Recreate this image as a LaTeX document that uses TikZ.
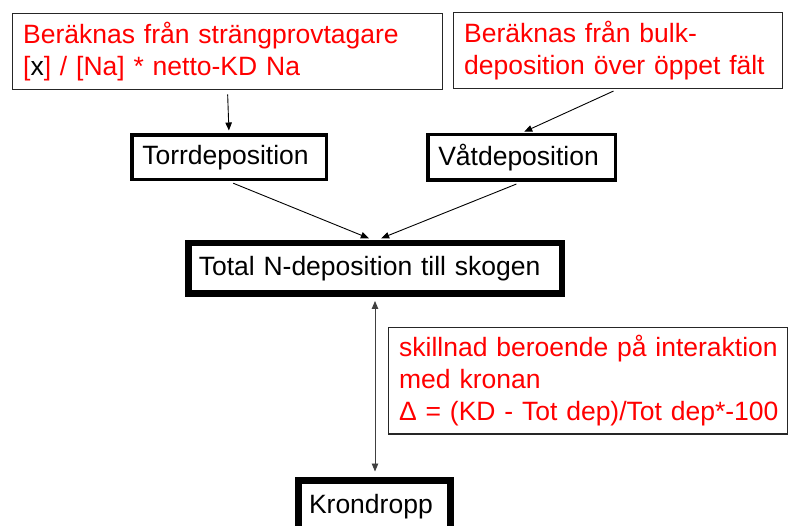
\documentclass[tikz,border=0pt]{standalone}
\usepackage{fontspec}
\setmainfont{Liberation Sans}
\usetikzlibrary{arrows.meta}
\begin{document}
\begin{tikzpicture}[x=1pt,y=-1pt,
  txt/.style={font=\fontsize{26.5}{32}\selectfont},
  note/.style={txt, draw=black!85, line width=1.3pt, text=red, align=left,
    inner xsep=10.5pt, inner ysep=0pt},
  stepbox/.style={txt, draw=black, text=black, align=left, inner xsep=10.5pt, inner ysep=0pt},
  arr/.style={draw=black, line width=0.9pt, -{Triangle[length=8pt,width=6.5pt]}},
  darr/.style={draw=black!75, line width=0.9pt, {Triangle[length=8pt,width=6.5pt]}-{Triangle[length=8pt,width=6.5pt]}}
]
\clip (0,0) rectangle (789,526);
\fill[white] (0,0) rectangle (789,526);

\node[note, minimum width=429.7pt, minimum height=75.7pt, text width=408.7pt, yshift=-1pt]
  (calc1) at (227.5,50.5) {\mbox{Beräknas från strängprovtagare}\\\mbox{[\textcolor{black}{x}] / [Na] * netto-KD Na}};
\node[note, minimum width=328.7pt, minimum height=75.7pt, text width=307.7pt, yshift=-1pt]
  (bulk) at (618,49.5) {\mbox{Beräknas från bulk-}\\\mbox{deposition över öppet fält}};

\node[stepbox, line width=3.5pt, minimum width=194.5pt, minimum height=44.5pt, text width=173.5pt, yshift=-0.5pt]
  (torr) at (229,157) {Torrdeposition};
\node[stepbox, line width=3.5pt, minimum width=187.5pt, minimum height=45.5pt, text width=166.5pt]
  (vat) at (521.5,157.5) {Våtdeposition};
\node[stepbox, line width=6.5pt, minimum width=373.5pt, minimum height=50.5pt, text width=352.5pt]
  (total) at (375,268.5) {\mbox{Total N-deposition till skogen}};
\node[note, minimum width=398.7pt, minimum height=106.7pt, text width=377.7pt, yshift=-1.5pt]
  (diff) at (588,379) {\mbox{skillnad beroende på interaktion}\\\mbox{med kronan}\\\mbox{Δ = (KD - Tot dep)/Tot dep*-100}};
\node[stepbox, line width=7pt, minimum width=152pt, minimum height=51.6pt, text width=131pt]
  (kron) at (374.5,506.3) {Krondropp};

\draw[arr, shorten <=4.5pt, shorten >=3pt] (calc1.south) -- (torr.north);
\draw[arr, shorten <=5pt, shorten >=3pt] (bulk.south) -- (vat.north);
\draw[arr, shorten <=4.5pt, shorten >=4.5pt] (torr.south) -- ([xshift=-2pt]total.north);
\draw[arr, shorten <=5.5pt, shorten >=4.5pt] (vat.south) -- ([xshift=2pt]total.north);
\draw[darr, shorten <=4pt, shorten >=5.5pt] (total.south) -- (total.south |- kron.north);
\end{tikzpicture}
\end{document}
